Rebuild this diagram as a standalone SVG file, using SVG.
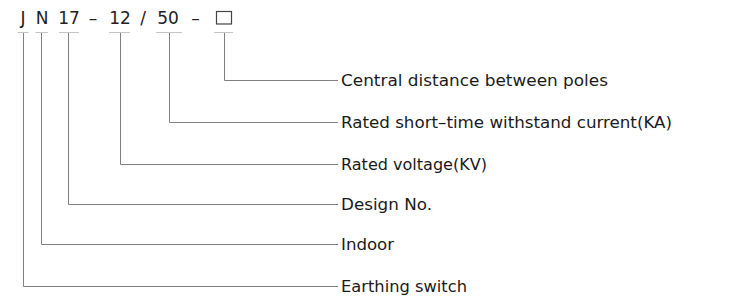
<svg xmlns="http://www.w3.org/2000/svg" width="730" height="308" viewBox="0 0 730 308">
<style>
  .code{font-family:"DejaVu Sans","Liberation Sans",sans-serif;font-size:17px;fill:#222;text-anchor:middle}
  .lbl{font-family:"DejaVu Sans","Liberation Sans",sans-serif;font-size:16px;fill:#1a1a1a}
  .tick{stroke:#c4c4c4;stroke-width:1;fill:none}
  .conn{stroke:#808080;stroke-width:1;fill:none}
  .box{stroke:#444;stroke-width:1.2;fill:#fff}
</style>
<rect width="730" height="308" fill="#fff"/>
<g id="code">
  <g id="code-J"><text class="code" x="23" y="24">J</text><line class="tick" x1="17.5" y1="32.5" x2="28.5" y2="32.5"/></g>
  <g id="code-N"><text class="code" x="42" y="24">N</text><line class="tick" x1="35.5" y1="32.5" x2="48" y2="32.5"/></g>
  <g id="code-17"><text class="code" x="69" y="24">17</text><line class="tick" x1="59" y1="32.5" x2="79" y2="32.5"/></g>
  <text class="code" x="93" y="24">–</text>
  <g id="code-12"><text class="code" x="120" y="24">12</text><line class="tick" x1="109" y1="32.5" x2="130" y2="32.5"/></g>
  <text class="code" x="143" y="24">/</text>
  <g id="code-50"><text class="code" x="168" y="24">50</text><line class="tick" x1="156" y1="32.5" x2="182" y2="32.5"/></g>
  <text class="code" x="195.5" y="24">–</text>
  <g id="code-box"><rect class="box" x="216.5" y="11.5" width="15" height="12.5"/><line class="tick" x1="214" y1="32.5" x2="233" y2="32.5"/></g>
</g>
<g id="connectors">
  <polyline class="conn" points="224.5,33 224.5,80.5 338,80.5"/>
  <polyline class="conn" points="169.5,33 169.5,122.5 338,122.5"/>
  <polyline class="conn" points="120.5,33 120.5,164.5 338,164.5"/>
  <polyline class="conn" points="68.5,33 68.5,204.5 338,204.5"/>
  <polyline class="conn" points="41.5,33 41.5,244.5 338,244.5"/>
  <polyline class="conn" points="23.5,33 23.5,286.5 338,286.5"/>
</g>
<g id="label-central"><text class="lbl" x="341" y="86" textLength="267" lengthAdjust="spacingAndGlyphs">Central distance between poles</text></g>
<g id="label-current"><text class="lbl" x="341" y="128" textLength="331" lengthAdjust="spacingAndGlyphs">Rated short–time withstand current(KA)</text></g>
<g id="label-voltage"><text class="lbl" x="341" y="170" textLength="146" lengthAdjust="spacingAndGlyphs">Rated voltage(KV)</text></g>
<g id="label-design"><text class="lbl" x="341" y="210" textLength="91" lengthAdjust="spacingAndGlyphs">Design No.</text></g>
<g id="label-indoor"><text class="lbl" x="341" y="250" textLength="53" lengthAdjust="spacingAndGlyphs">Indoor</text></g>
<g id="label-earthing"><text class="lbl" x="341" y="292" textLength="126" lengthAdjust="spacingAndGlyphs">Earthing switch</text></g>
</svg>
